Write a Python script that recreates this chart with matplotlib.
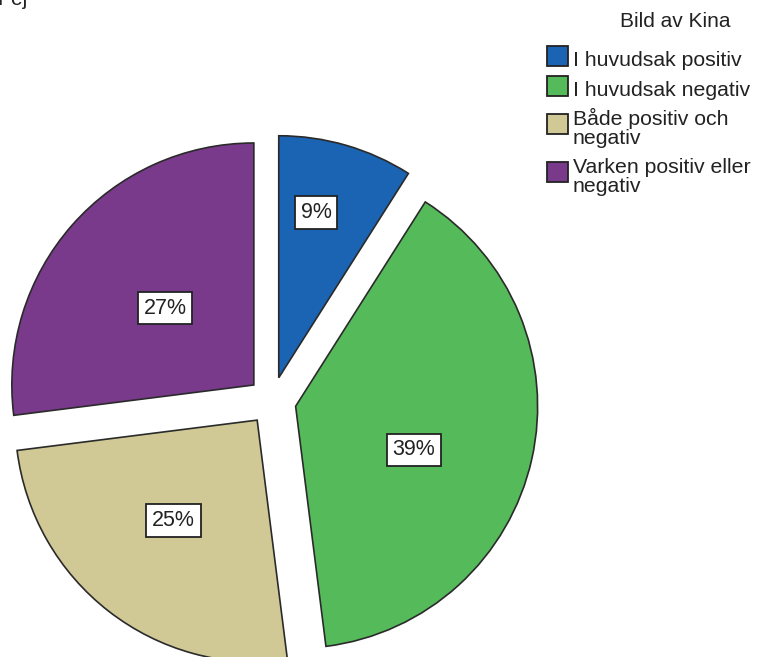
import matplotlib
matplotlib.use("Agg")
import matplotlib.pyplot as plt
import numpy as np
from matplotlib.patches import Rectangle

plt.rcParams['font.family'] = ['Liberation Sans', 'DejaVu Sans']

categories = ["I huvudsak positiv", "I huvudsak negativ", "Både positiv och\nnegativ", "Varken positiv eller\nnegativ"]
values = [9, 39, 25, 27]
pct_labels = ["9%", "39%", "25%", "27%"]
colors = ["#1b64b3", "#55bb5a", "#d0c995", "#7a3a8c"]
legend_title = "Bild av Kina"

W, H = 766, 657
fig = plt.figure(figsize=(W / 100, H / 100), dpi=100)

# axes square in pixels, centred on pie centre
cx, cy = 272, H - 401
L = 1.5
side = 2 * L * 242
ax = fig.add_axes([(cx - side / 2) / W, (cy - side / 2) / H, side / W, side / H])

wedges, _ = ax.pie(values, colors=colors, startangle=90, counterclock=False,
                   explode=[0.1] * 4, radius=1.0,
                   wedgeprops=dict(edgecolor="#2a2a2a", linewidth=1.2))
ax.set_xlim(-L, L)
ax.set_ylim(-L, L)
ax.axis('off')

label_r = [0.80, 0.62, 0.64, 0.585]
label_shift = [3, -6.4, -1.7, 0.4]
for w, lab, r, sh in zip(wedges, pct_labels, label_r, label_shift):
    ang = np.deg2rad((w.theta1 + w.theta2) / 2 + sh)
    ax.text(r * np.cos(ang), r * np.sin(ang), lab, ha='center', va='center', fontsize=15.5,
            color="#222222",
            bbox=dict(boxstyle='square,pad=0.27', facecolor='white', edgecolor='#222222', linewidth=1.3))

# manual legend (pixel layout, y from top)
def fy(px):
    return 1 - px / H

txt_col = "#222222"
fig.text(675 / W, fy(27), legend_title, fontsize=15, color=txt_col, ha='center', va='baseline')
base = 66
line_h = 18.8
step = 29.5
sq_x, sq_w, sq_h, txt_x = 547, 21, 20, 573
for cat, col in zip(categories, colors):
    lines = cat.split("\n")
    for k, ln in enumerate(lines):
        fig.text(txt_x / W, fy(base + k * line_h), ln, fontsize=15.3, color=txt_col,
                 ha='left', va='baseline')
    sq_center = base - 10 + (len(lines) - 1) * 8.5
    fig.patches.append(Rectangle((sq_x / W, fy(sq_center + sq_h / 2)), sq_w / W, sq_h / H,
                                 transform=fig.transFigure, facecolor=col,
                                 edgecolor="#222222", linewidth=1.3))
    base += step + (len(lines) - 1) * line_h

fig.text(-3 / W, fy(5), "Pej", fontsize=15, color=txt_col, ha='left', va='baseline')

fig.savefig("out.png", dpi=100)
